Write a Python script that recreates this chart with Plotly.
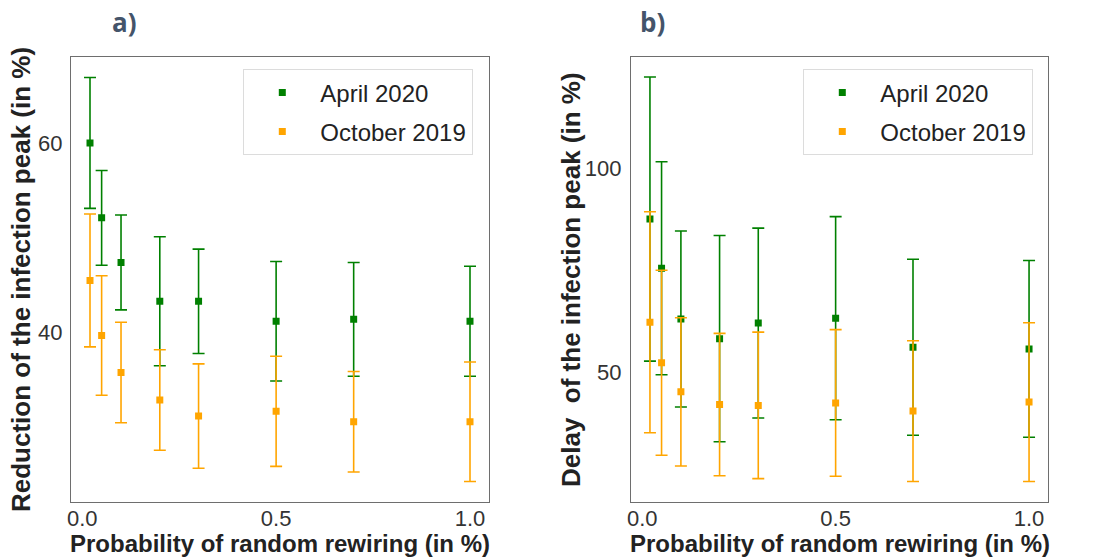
import plotly.graph_objects as go

# Rewiring probabilities (in %)
rewiring = [0.02, 0.05, 0.1, 0.2, 0.3, 0.5, 0.7, 1.0]

# a) Reduction of the infection peak (in %): mean and error half-width
reduction_apr2020 = [60.0, 52.1, 47.4, 43.3, 43.3, 41.2, 41.4, 41.2]
reduction_apr2020_err = [6.9, 5.0, 5.0, 6.8, 5.5, 6.3, 6.0, 5.8]
reduction_oct2019 = [45.5, 39.7, 35.8, 32.9, 31.2, 31.7, 30.6, 30.6]
reduction_oct2019_err = [7.0, 6.3, 5.3, 5.3, 5.5, 5.8, 5.3, 6.3]

# b) Delay of the infection peak (in %): mean and error half-width
delay_apr2020 = [87.5, 75.5, 63.1, 58.3, 62.1, 63.3, 56.2, 55.8]
delay_apr2020_err = [34.7, 26.0, 21.5, 25.2, 23.2, 24.8, 21.5, 21.6]
delay_oct2019 = [62.3, 52.4, 45.3, 42.2, 42.0, 42.6, 40.6, 42.8]
delay_oct2019_err = [27.0, 22.6, 18.1, 17.4, 17.9, 17.9, 17.2, 19.4]

series_names = ["April 2020", "October 2019"]
GREEN = "#008000"
ORANGE = "#FFA500"

FONT = "Liberation Sans, Arial, sans-serif"

fig = go.Figure()


def add_series(y, err, name, color, xaxis, yaxis, legend, group):
    fig.add_trace(go.Scatter(
        x=rewiring, y=y, mode="markers", name=name,
        marker=dict(symbol="square", size=7, color=color, line=dict(width=0)),
        error_y=dict(type="data", array=err, visible=True, color=color,
                     thickness=1.6, width=6),
        xaxis=xaxis, yaxis=yaxis, legend=legend, legendgroup=group,
    ))


add_series(reduction_apr2020, reduction_apr2020_err, series_names[0], GREEN, "x", "y", "legend", "a1")
add_series(reduction_oct2019, reduction_oct2019_err, series_names[1], ORANGE, "x", "y", "legend", "a2")
add_series(delay_apr2020, delay_apr2020_err, series_names[0], GREEN, "x2", "y2", "legend2", "b1")
add_series(delay_oct2019, delay_oct2019_err, series_names[1], ORANGE, "x2", "y2", "legend2", "b2")

W, H = 1102, 559
left_dom = [71 / W, 489 / W]
right_dom = [631 / W, 1048 / W]
y_dom = [1 - 501.7 / H, 1 - 57.3 / H]

axis_common = dict(
    showline=True, mirror=True, linecolor="#6e6e6e", linewidth=1.3,
    showgrid=False, zeroline=False, ticks="", automargin=False,
    tickfont=dict(family=FONT, size=22, color="#333333"),
)

xticks = [0.0, 0.5, 1.0]
legend_common = dict(
    xanchor="left", yanchor="top", bgcolor="white", bordercolor="#dcdcdc",
    borderwidth=1.3, font=dict(family=FONT, size=24, color="#222222"),
    itemwidth=66, tracegroupgap=5, traceorder="grouped",
)
fig.update_layout(
    width=W, height=H,
    margin=dict(l=0, r=0, t=0, b=0),
    paper_bgcolor="white", plot_bgcolor="white",
    xaxis=dict(domain=left_dom, range=[-0.029, 1.049], tickvals=xticks,
               tickformat=".1f", anchor="y", ticklabelstandoff=-3, **axis_common),
    yaxis=dict(domain=y_dom, range=[22.17, 69.03], tickvals=[40, 60],
               anchor="x", ticklabelstandoff=3, **axis_common),
    xaxis2=dict(domain=right_dom, range=[-0.029, 1.049], tickvals=xticks,
                tickformat=".1f", anchor="y2", ticklabelstandoff=-3, **axis_common),
    yaxis2=dict(domain=y_dom, range=[18.47, 127.03], tickvals=[50, 100],
                anchor="x2", ticklabelstandoff=4, **axis_common),
    legend=dict(x=243 / W, y=1 - 69 / H, **legend_common),
    legend2=dict(x=803 / W, y=1 - 69 / H, **legend_common),
    showlegend=True,
)

xtitle_font = dict(family=FONT, size=24, color="#222222")
ytitle_font = dict(family=FONT, size=26, color="#222222")
label_font = dict(family="Open Sans, sans-serif", size=26, color="#44546A")
annotations = [
    # x-axis titles
    dict(text="<b>Probability of random rewiring (in %)</b>", x=(71 + 489) / 2 / W, y=1 - 543 / H,
         xref="paper", yref="paper", showarrow=False, font=xtitle_font,
         xanchor="center", yanchor="middle"),
    dict(text="<b>Probability of random rewiring (in %)</b>", x=(631 + 1048) / 2 / W, y=1 - 543 / H,
         xref="paper", yref="paper", showarrow=False, font=xtitle_font,
         xanchor="center", yanchor="middle"),
    # y-axis titles
    dict(text="<b>Reduction of the infection peak (in %)</b>", x=21 / W, y=1 - 280 / H,
         xref="paper", yref="paper", showarrow=False, font=ytitle_font, textangle=-90,
         xanchor="center", yanchor="middle"),
    dict(text="<b>Delay\u00a0 of the infection peak (in %)</b>", x=571 / W, y=1 - 280 / H,
         xref="paper", yref="paper", showarrow=False, font=ytitle_font, textangle=-90,
         xanchor="center", yanchor="middle"),
    # panel labels
    dict(text="<b>a)</b>", x=124 / W, y=1 - 22 / H, xref="paper", yref="paper",
         showarrow=False, font=label_font, xanchor="center", yanchor="middle"),
    dict(text="<b>b)</b>", x=652 / W, y=1 - 22 / H, xref="paper", yref="paper",
         showarrow=False, font=label_font, xanchor="center", yanchor="middle"),
]
fig.update_layout(annotations=annotations)

fig.write_html("out.html")
